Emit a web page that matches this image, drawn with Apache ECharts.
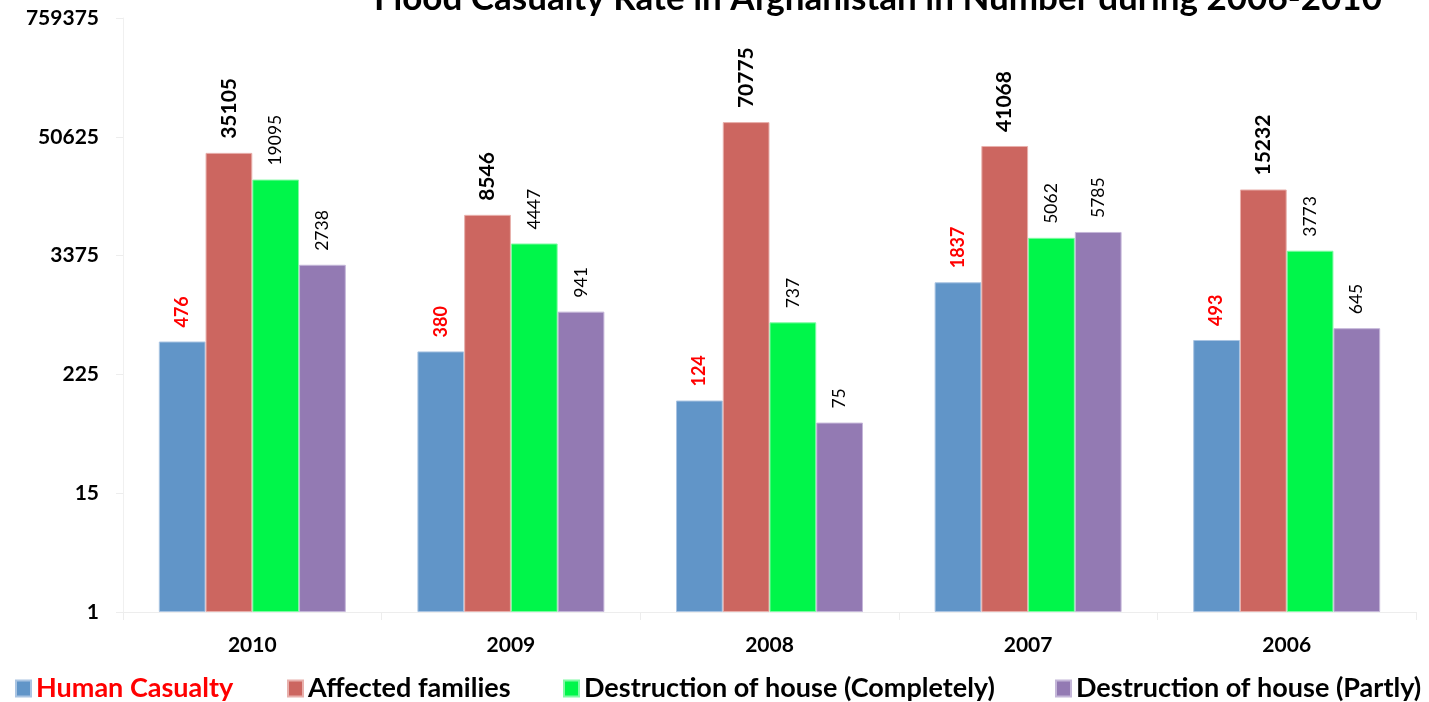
<!DOCTYPE html>
<html>
<head>
<meta charset="utf-8">
<script src="https://cdn.jsdelivr.net/npm/echarts@6/dist/echarts.min.js"></script>
<style>html,body{margin:0;padding:0;background:#fff}#c{width:1429px;height:702px}</style>
</head>
<body>
<div id="c"></div>
<script>
const titleText = 'Flood Casualty Rate in Afghanistan in Number during 2006-2010';
const years = ['2010', '2009', '2008', '2007', '2006'];
const seriesNames = ['Human Casualty', 'Affected families', 'Destruction of house (Completely)', 'Destruction of house (Partly)'];
const humanCasualty = [476, 380, 124, 1837, 493];
const affectedFamilies = [35105, 8546, 70775, 41068, 15232];
const destructionCompletely = [19095, 4447, 737, 5062, 3773];
const destructionPartly = [2738, 941, 75, 5785, 645];
const yTicks = [1, 15, 225, 3375, 50625, 759375];

const FONT = 'Lato';
const colors = ['#6195C8', '#CC6660', '#00F64A', '#937AB3'];
const borders = ['#A9C4E2', '#E8B0AC', '#80FAA4', '#C4B6D8'];
const labelStyles = [
  {color: '#FF0000', fontWeight: 'bold', fontSize: 18},
  {color: '#000000', fontWeight: 'bold', fontSize: 21},
  {color: '#000000', fontWeight: 'normal', fontSize: 17.5},
  {color: '#000000', fontWeight: 'normal', fontSize: 17.5}
];
const values = [humanCasualty, affectedFamilies, destructionCompletely, destructionPartly];

const chart = echarts.init(document.getElementById('c'), null, {renderer: 'canvas'});
const legendLefts = [10, 282, 558, 1050];
const legendColors = ['#FF0000', '#000000', '#000000', '#000000'];

chart.setOption({
  animation: false,
  backgroundColor: '#ffffff',
  title: {
    text: titleText,
    left: 873,
    textAlign: 'center',
    top: -24,
    textStyle: {fontFamily: FONT, fontSize: 35, fontWeight: 'bold', color: '#000'}
  },
  legend: seriesNames.map((n, i) => ({
    data: [n],
    left: legendLefts[i],
    top: 670,
    itemWidth: 15,
    itemHeight: 16,
    itemGap: 8,
    icon: 'rect',
    textStyle: {fontFamily: FONT, fontSize: 27, fontWeight: 'bold', color: legendColors[i]}
  })),
  grid: {left: 123, right: 13, top: 18, bottom: 90, containLabel: false},
  xAxis: {
    type: 'category',
    data: years,
    axisLine: {lineStyle: {color: '#EDEDED', width: 1}},
    axisTick: {show: true, length: 8, lineStyle: {color: '#EDEDED'}},
    axisLabel: {fontFamily: FONT, fontSize: 21, fontWeight: 'bold', color: '#000', margin: 23}
  },
  yAxis: {
    type: 'log',
    logBase: 15,
    min: yTicks[0],
    max: yTicks[yTicks.length - 1],
    splitNumber: 5,
    axisLine: {show: true, lineStyle: {color: '#F0F0F0'}},
    axisTick: {show: true, length: 7, lineStyle: {color: '#EDEDED'}},
    splitLine: {show: false},
    axisLabel: {
      fontFamily: FONT, fontSize: 21, fontWeight: 'bold', color: '#000', margin: 24,
      formatter: v => String(yTicks.reduce((a, b) => Math.abs(b - v) < Math.abs(a - v) ? b : a))
    }
  },
  series: seriesNames.map((n, i) => ({
    name: n,
    type: 'bar',
    data: values[i],
    barGap: '0%',
    barCategoryGap: '27.7%',
    itemStyle: {color: colors[i], borderColor: borders[i], borderWidth: 1},
    label: {
      show: true,
      position: 'top',
      rotate: 90,
      align: 'left',
      verticalAlign: 'middle',
      distance: 14,
      fontFamily: FONT,
      fontSize: labelStyles[i].fontSize,
      fontWeight: labelStyles[i].fontWeight,
      color: labelStyles[i].color
    }
  }))
});
</script>
</body>
</html>
